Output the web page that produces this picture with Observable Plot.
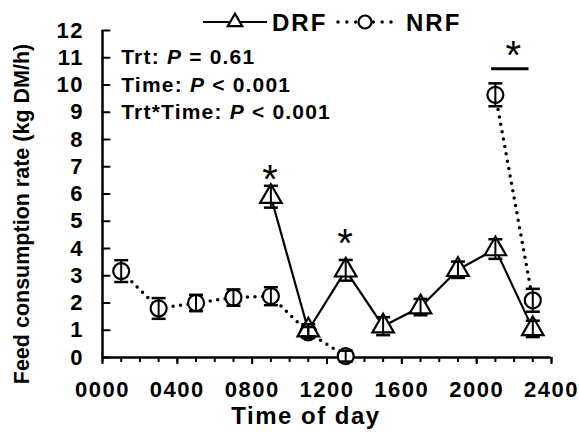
<!DOCTYPE html>
<html><head><meta charset="utf-8">
<script src="https://cdn.jsdelivr.net/npm/d3@7"></script>
<script src="https://cdn.jsdelivr.net/npm/@observablehq/plot@0.6"></script>
<style>
body{margin:0;background:#fff;}
#wrap{position:relative;width:579px;height:432px;}
#legend{position:absolute;left:0;top:0;}
</style></head><body><div id="wrap"></div>
<script>
// ---- data ----
const nrfTime = [100, 300, 500, 700, 900, 1100, 1300, 2100, 2300];
const nrfMean = [3.17, 1.8, 2.0, 2.2, 2.25, 0.92, 0.05, 9.64, 2.1];
const nrfSE   = [0.4, 0.38, 0.3, 0.3, 0.33, 0.2, 0.2, 0.42, 0.42];
const nrfRun  = [1, 1, 1, 1, 1, 1, 1, 2, 2];
const drfTime = [900, 1100, 1300, 1500, 1700, 1900, 2100, 2300];
const drfMean = [5.9, 1.0, 3.2, 1.15, 1.85, 3.22, 3.98, 1.05];
const drfSE   = [0.4, 0.22, 0.38, 0.33, 0.3, 0.3, 0.36, 0.3];
const xMajor = [0, 400, 800, 1200, 1600, 2000, 2400];
const xTickLabels = ["0000", "0400", "0800", "1200", "1600", "2000", "2400"];
const yTicks = [0,1,2,3,4,5,6,7,8,9,10,11,12];
const starTime = [900, 1300, 2200];
const starY = [6.76, 4.4, 11.3];
const sigBarTime = [2080, 2280];
const sigBarY = 10.6;
const statLines = ["Trt: P = 0.61", "Time: P < 0.001", "Trt*Time: P < 0.001"];
const statY = [11, 10, 9];
const statX = 100;
const series = ["DRF", "NRF"];
const yLabel = "Feed consumption rate (kg DM/h)";
const xLabel = "Time of day";

const nrf = nrfTime.map((t, i) => ({t, m: nrfMean[i], se: nrfSE[i], run: nrfRun[i]}));
const drf = drfTime.map((t, i) => ({t, m: drfMean[i], se: drfSE[i]}));
const both = nrf.concat(drf);

const capShape = {draw(ctx, size) { const r = Math.sqrt(size / Math.PI); ctx.moveTo(-r, 0); ctx.lineTo(r, 0); }};
const inTick = {draw(ctx, l) { ctx.moveTo(0, 0); ctx.lineTo(0, -l); }};
const FONT = '"Liberation Sans", Arial, Helvetica, sans-serif';

const chart = Plot.plot({
  width: 579, height: 432,
  marginLeft: 102, marginRight: 28, marginTop: 30, marginBottom: 75,
  style: {fontFamily: FONT, fontWeight: "bold", background: "#fff", color: "#000", overflow: "visible", letterSpacing: "1.5px"},
  x: {domain: [0, 2400]},
  y: {domain: [0, 12]},
  marks: [
    Plot.axisX({ticks: d3.range(0, 2401, 100), tickSize: 5, tickFormat: () => "", strokeWidth: 2, label: null}),
    Plot.axisX({ticks: xMajor, tickSize: 7, tickPadding: 17, tickFormat: d => xTickLabels[xMajor.indexOf(d)], fontSize: 22, strokeWidth: 2, label: null}),
    Plot.axisY({ticks: yTicks, tickSize: 0, tickPadding: 18.5, fontSize: 22, label: null}),
    Plot.vector(yTicks, {x: () => 0, y: d => d, length: 7, rotate: 90, anchor: "start", shape: inTick, stroke: "black", strokeWidth: 2}),
    Plot.ruleX([0], {stroke: "black", strokeWidth: 2.5}),
    Plot.ruleY([0], {stroke: "black", strokeWidth: 2.5}),
    Plot.line(nrf, {x: "t", y: "m", z: "run", stroke: "black", strokeWidth: 3.5, strokeDasharray: "0,7.5", strokeLinecap: "round"}),
    Plot.line(drf, {x: "t", y: "m", stroke: "black", strokeWidth: 2.2}),
    Plot.dot(nrf, {x: "t", y: "m", r: 8, symbol: "circle", fill: "white", stroke: "black", strokeWidth: 2.2}),
    Plot.dot(drf, {x: "t", y: "m", r: 8, symbol: "triangle", fill: "white", stroke: "black", strokeWidth: 2.2}),
    Plot.ruleX(both, {x: "t", y1: d => d.m - d.se, y2: d => d.m + d.se, stroke: "black", strokeWidth: 2}),
    Plot.dot(both, {x: "t", y: d => d.m + d.se, r: 7, symbol: capShape, stroke: "black", strokeWidth: 2.5}),
    Plot.dot(both, {x: "t", y: d => d.m - d.se, r: 7, symbol: capShape, stroke: "black", strokeWidth: 2.5}),
    Plot.text(starTime, {x: d => d, y: (d, i) => starY[i], text: () => "*", fontSize: 40, fontWeight: "normal", dy: 7}),
    Plot.ruleY([sigBarY], {x1: sigBarTime[0], x2: sigBarTime[1], stroke: "black", strokeWidth: 3}),
    Plot.text(statLines, {x: () => statX, y: (d, i) => statY[i], text: d => d, textAnchor: "start", fontSize: 21, fontWeight: "bold"}),
    Plot.text([yLabel], {frameAnchor: "left", textAnchor: "middle", lineAnchor: "middle", rotate: -90, dx: -80, dy: 20, fontSize: 21.5, fontWeight: "bold"}),
    Plot.text([xLabel], {frameAnchor: "bottom", textAnchor: "middle", lineAnchor: "middle", dx: -21, dy: 59, fontSize: 24, fontWeight: "bold"})
  ]
});
document.getElementById("wrap").appendChild(chart);

// italic P in the statistics lines, and per-text spacing
d3.select(chart).selectAll("text").filter(function() { return this.textContent === yLabel; })
  .style("letter-spacing", "0px");
d3.select(chart).selectAll("text").filter(function() { return statLines.includes(this.textContent); })
  .style("letter-spacing", "1.2px")
  .each(function() {
    const t = this.textContent;
    const k = t.indexOf(": P") + 2;
    const sel = d3.select(this);
    sel.text(null);
    sel.append("tspan").text(t.slice(0, k));
    sel.append("tspan").attr("font-style", "italic").text("P");
    sel.append("tspan").text(t.slice(k + 1));
  });

// legend
const leg = d3.select("#wrap").append("svg").attr("id", "legend").attr("width", 579).attr("height", 45)
  .style("font-family", FONT).style("font-weight", "bold").style("letter-spacing", "2px");
const ly = 22;
leg.append("line").attr("x1", 203).attr("x2", 267).attr("y1", ly).attr("y2", ly).attr("stroke", "black").attr("stroke-width", 2.2);
leg.append("path").attr("d", d3.symbol(d3.symbolTriangle, 90)()).attr("transform", `translate(235,${ly})`)
  .attr("fill", "white").attr("stroke", "black").attr("stroke-width", 2.2);
leg.append("text").attr("x", 272).attr("y", ly + 8.5).attr("font-size", 24).text(series[0]);
leg.append("line").attr("x1", 338).attr("x2", 391).attr("y1", ly).attr("y2", ly).attr("stroke", "black")
  .attr("stroke-width", 3.5).attr("stroke-linecap", "round").attr("stroke-dasharray", "0,8.83");
leg.append("circle").attr("cx", 365).attr("cy", ly).attr("r", 6.5).attr("fill", "white").attr("stroke", "black").attr("stroke-width", 2.2);
leg.append("text").attr("x", 406).attr("y", ly + 8.5).attr("font-size", 24).text(series[1]);
</script></body></html>
